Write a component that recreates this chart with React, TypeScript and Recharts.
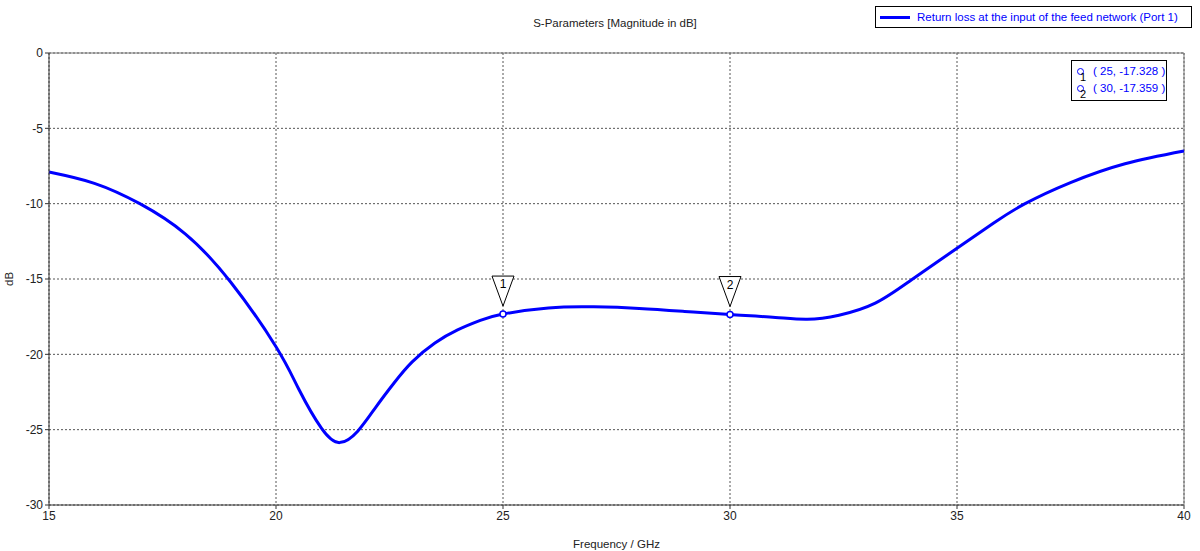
import { LineChart, Line, XAxis, YAxis, CartesianGrid, ReferenceLine, ReferenceDot } from 'recharts'

const freqs = [15, 16, 17, 18, 19, 20, 20.5, 21, 21.4, 21.8, 22.2, 22.6, 23, 23.5, 24, 24.5, 25, 26, 27, 28, 29, 30, 31, 31.7, 32.4, 33.2, 34, 35, 35.8, 36.5, 37.5, 38.7, 40]
const s11 = [-7.9, -8.65, -10.0, -12.0, -15.2, -19.5, -22.3, -24.9, -25.86, -25.1, -23.5, -21.9, -20.5, -19.25, -18.38, -17.75, -17.328, -16.92, -16.85, -16.95, -17.15, -17.359, -17.55, -17.67, -17.4, -16.6, -15.05, -12.96, -11.3, -10.0, -8.6, -7.35, -6.5]
const xTicks = [15, 20, 25, 30, 35, 40]
const yTicks = [0, -5, -10, -15, -20, -25, -30]
const markers = [
  { id: '1', freq: 25, value: -17.328 },
  { id: '2', freq: 30, value: -17.359 },
]

const data = freqs.map((f, i) => ({ f, v: s11[i] }))

const font = '"Liberation Sans", Arial, sans-serif'
const BLUE = '#0000ff'

const MarkerShape = (props: any) => {
  const { cx, cy, label } = props
  return (
    <g>
      <polygon
        points={`${cx - 11},${cy - 38} ${cx + 11},${cy - 38} ${cx},${cy - 8}`}
        fill="#fff"
        stroke="#000"
        strokeWidth={1}
      />
      <text x={cx} y={cy - 26} textAnchor="middle" fontSize={12} fontFamily={font} fill="#000">
        {label}
      </text>
      <circle cx={cx} cy={cy} r={3} fill="#fff" stroke={BLUE} strokeWidth={1.5} />
    </g>
  )
}

export default function App() {
  const wrap: React.CSSProperties = {
    position: 'absolute',
    left: 0,
    top: 0,
    width: 1200,
    height: 551,
    background: '#fff',
    fontFamily: font,
  }
  const title: React.CSSProperties = {
    position: 'absolute',
    left: 0,
    width: 1230,
    top: 17,
    textAlign: 'center',
    fontSize: 11.5,
    color: '#222',
  }
  const legend: React.CSSProperties = {
    position: 'absolute',
    left: 875,
    top: 6,
    width: 317,
    height: 22,
    border: '1px solid #000',
    background: '#fff',
    display: 'flex',
    alignItems: 'center',
    fontSize: 11.5,
    color: BLUE,
    boxSizing: 'border-box',
    whiteSpace: 'nowrap',
    overflow: 'hidden',
  }
  const markerBox: React.CSSProperties = {
    position: 'absolute',
    left: 1071,
    top: 60,
    width: 96,
    height: 41,
    border: '1px solid #000',
    background: '#fff',
    boxSizing: 'border-box',
    fontSize: 11.5,
    color: BLUE,
    padding: '2px 0 0 5px',
    lineHeight: '17px',
  }
  const yLabel: React.CSSProperties = {
    position: 'absolute',
    left: 3,
    top: 286,
    fontSize: 11.5,
    color: '#222',
    transform: 'rotate(-90deg)',
    transformOrigin: 'left top',
  }

  return (
    <div style={wrap}>
      <LineChart
        width={1200}
        height={551}
        data={data}
        margin={{ top: 53, right: 16, bottom: 0, left: 0 }}
      >
        <CartesianGrid stroke="#555" strokeDasharray="2 2" />
        <XAxis
          dataKey="f"
          type="number"
          domain={[15, 40]}
          ticks={xTicks}
          height={46}
          stroke="#333"
          tick={{ fontSize: 12, fill: '#222', fontFamily: font }}
          tickSize={4}
          label={{ value: 'Frequency / GHz', position: 'insideBottom', offset: 0, dy: -3, fontSize: 11.5, fill: '#222', fontFamily: font }}
        />
        <YAxis
          type="number"
          domain={[-30, 0]}
          ticks={yTicks}
          width={49}
          stroke="#333"
          tick={{ fontSize: 12, fill: '#222', fontFamily: font }}
          tickSize={4}
        />
        <ReferenceLine y={0} stroke="#777" strokeWidth={1} />
        <ReferenceLine x={40} stroke="#777" strokeWidth={1} />
        <Line
          type="natural"
          dataKey="v"
          stroke={BLUE}
          strokeWidth={3}
          dot={false}
          isAnimationActive={false}
        />
        {markers.map((m) => (
          <ReferenceDot
            key={m.id}
            x={m.freq}
            y={m.value}
            r={3}
            shape={(p: any) => <MarkerShape {...p} label={m.id} />}
          />
        ))}
      </LineChart>
      <div style={title}>S-Parameters [Magnitude in dB]</div>
      <div style={yLabel}>dB</div>
      <div style={legend}>
        <span style={{ display: 'inline-block', width: 30, height: 3, background: BLUE, margin: '0 7px 0 4px', flexShrink: 0 }} />
        Return loss at the input of the feed network (Port 1)
      </div>
      <div style={markerBox}>
        {markers.map((m) => (
          <div key={m.id} style={{ position: 'relative', whiteSpace: 'nowrap' }}>
            <span style={{ display: 'inline-block', width: 7, height: 7, borderRadius: '50%', border: `1.5px solid ${BLUE}`, marginRight: 9, boxSizing: 'border-box' }} />
            <span style={{ position: 'absolute', left: 3, top: 6, fontSize: 11, color: '#000' }}>{m.id}</span>
            ( {m.freq}, {m.value.toFixed(3)} )
          </div>
        ))}
      </div>
    </div>
  )
}
